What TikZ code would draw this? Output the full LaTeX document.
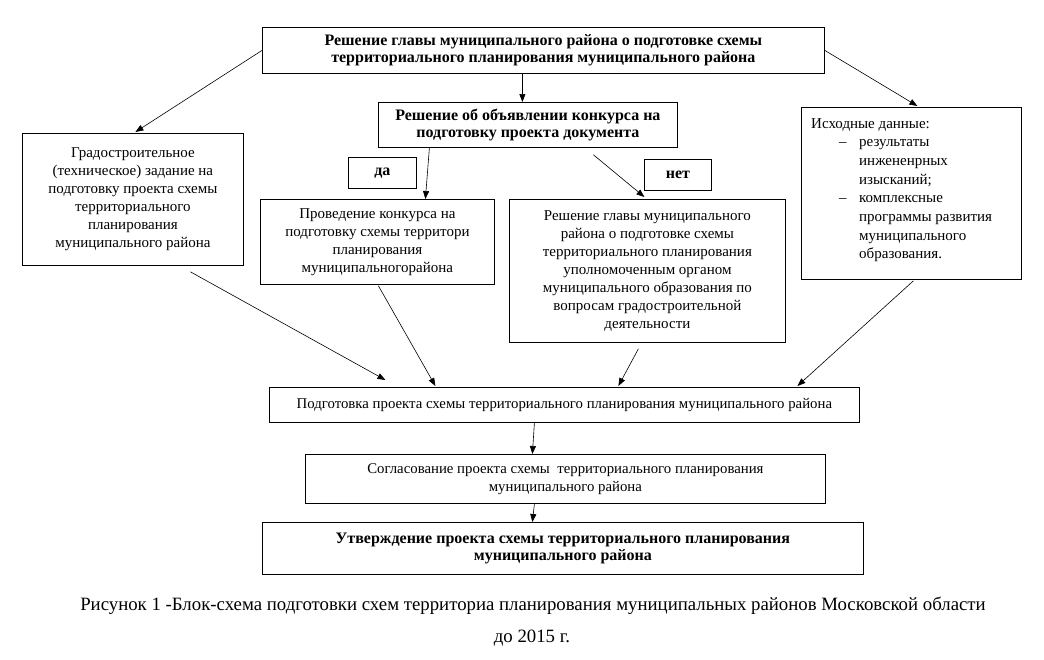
\documentclass[tikz,border=0pt]{standalone}
\usepackage{fontspec}
\setmainfont{Liberation Serif}
\usetikzlibrary{arrows.meta,calc}
\begin{document}
\begin{tikzpicture}[x=1pt,y=-1pt,
  box/.style={draw, line width=0.8pt, inner sep=0pt, anchor=north west, align=center},
  reg/.style={font=\fontsize{15}{18}\selectfont},
  bld/.style={font=\fontsize{16}{17.5}\selectfont\bfseries},
  sml/.style={font=\fontsize{14.8}{18}\selectfont},
  arr/.style={-{Triangle[length=8pt,width=6pt]}, line width=0.6pt}]
\useasboundingbox (0,0) rectangle (1044,659);
\fill[white] (0,0) rectangle (1044,659);
% boxes
\node[box,bld,minimum width=562pt,minimum height=46pt] (top) at (262,27)
  {Решение главы муниципального района о подготовке схемы\\территориального планирования муниципального района};
\node[box,bld,minimum width=299pt,minimum height=45pt] (konk) at (378,102)
  {Решение об объявлении конкурса на\\подготовку проекта документа};
\node[box,bld,minimum width=68pt,minimum height=31pt] (da) at (348,157) {да};
\node[box,bld,minimum width=67pt,minimum height=31pt] (net) at (644,159) {нет};
\node[box,reg,minimum width=221pt,minimum height=132pt] (left) at (22,133)
  {Градостроительное\\(техническое) задание на\\подготовку проекта схемы\\территориального\\планирования\\муниципального района};
\node[box,reg,minimum width=234pt,minimum height=85pt] (prov) at (260,199)
  {Проведение конкурса на\\подготовку схемы территори\\планирования\\муниципальногорайона};
\node[box,reg,minimum width=276pt,minimum height=143pt] (resh) at (509,199)
  {Решение главы муниципального\\района о подготовке схемы\\территориального планирования\\уполномоченным органом\\муниципального образования по\\вопросам градостроительной\\деятельности};
\node[box,minimum width=220pt,minimum height=172pt] (ishod) at (801,107) {};
\node[anchor=north west,inner sep=0pt,align=left,font=\fontsize{15}{18.7}\selectfont] (ishodtxt) at (811,118)
  {Исходные данные:\\
   \hspace*{28pt}\makebox[20pt][l]{–}результаты\\
   \hspace*{48pt}инжененрных\\
   \hspace*{48pt}изысканий;\\
   \hspace*{28pt}\makebox[20pt][l]{–}комплексные\\
   \hspace*{48pt}программы развития\\
   \hspace*{48pt}муниципального\\
   \hspace*{48pt}образования.};
\node[box,sml,minimum width=590pt,minimum height=35pt] (podg) at (269,387)
  {Подготовка проекта схемы территориального планирования муниципального района};
\node[box,sml,minimum width=520pt,minimum height=49pt] (sogl) at (305,454)
  {Согласование проекта схемы\ \ территориального планирования\\муниципального района};
\node[box,bld,minimum width=601pt,minimum height=52pt] (utv) at (262,522)
  {Утверждение проекта схемы территориального планирования\\муниципального района};
% caption
\node[font=\fontsize{18.8}{20}\selectfont] (cap1) at (533,606)
  {Рисунок 1 -Блок-схема подготовки схем территориа планирования муниципальных районов Московской области};
\node[font=\fontsize{18.8}{20}\selectfont] (cap2) at (532,638) {до 2015 г.};
% arrows
\draw[arr] (top.west) -- ($(left.north)+(2.5,-1)$);
\draw[arr] ($(top.south)+(-21,0)$) -- ($(konk.north)+(-5.5,0)$);
\draw[arr] (top.east) -- ($(ishod.north)+(6,-1)$);
\draw[arr] ($(konk.south)+(-98.5,0)$) -- ($(prov.north)+(48,0)$);
\draw[arr] ($(konk.south)+(65.5,7)$) -- ($(resh.north)+(-3,-2)$);
\draw[arr] ($(left.south)+(57.5,6)$) -- ($(podg.north)+(-179,-7)$);
\draw[arr] ($(prov.south)+(1,1)$) -- ($(podg.north)+(-129,-1)$);
\draw[arr] ($(resh.south)+(-9,6)$) -- ($(podg.north)+(54,-1)$);
\draw[arr] ($(ishod.south)+(2,1)$) -- ($(podg.north)+(233,-1)$);
\draw[arr] ($(podg.south)+(-30,0)$) -- ($(sogl.north)+(-33,0)$);
\draw[arr] ($(sogl.south)+(-31,0)$) -- ($(utv.north)+(-30.5,0)$);
\end{tikzpicture}
\end{document}
